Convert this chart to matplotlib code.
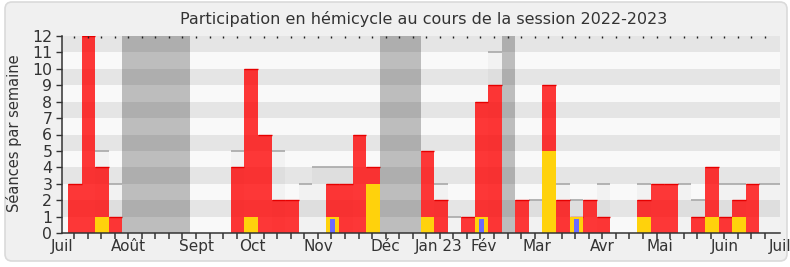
import matplotlib
matplotlib.use("Agg")
import matplotlib.pyplot as plt
from matplotlib.patches import FancyBboxPatch
from matplotlib.transforms import blended_transform_factory
import numpy as np

# ---- data (one entry per week, 53 weeks from July 2022) ----
presences = [3, 12, 4, 1, 0, 0, 0, 0, 0, 0, 0, 0, 4, 10, 6, 2, 2, 0, 0, 3,
             3, 6, 4, 0, 0, 0, 5, 2, 0, 1, 8, 9, 0, 2, 0, 9, 2, 1, 2, 1,
             0, 0, 2, 3, 3, 0, 1, 4, 1, 2, 3, 0, 0]
interventions = [0, 0, 1, 0, 0, 0, 0, 0, 0, 0, 0, 0, 0, 1, 0, 0, 0, 0, 0, 1,
                 0, 0, 3, 0, 0, 0, 1, 0, 0, 0, 1, 0, 0, 0, 0, 5, 0, 1, 0, 0,
                 0, 0, 1, 0, 0, 0, 0, 1, 0, 1, 0, 0, 0]
questions = [0, 0, 0, 0, 0, 0, 0, 0, 0, 0, 0, 0, 0, 0, 0, 0, 0, 0, 0, 1,
             0, 0, 0, 0, 0, 0, 0, 0, 0, 0, 1, 0, 0, 0, 0, 0, 0, 1, 0, 0,
             0, 0, 0, 0, 0, 0, 0, 0, 0, 0, 0, 0, 0]
mediane = [0, 0, 5, 3, 0, 0, 0, 0, 0, 0, 0, 0, 5, 0, 0, 5, 0, 3, 4, 4,
           4, 0, 0, 0, 0, 0, 0, 3, 1, 0, 0, 11, 0, 0, 2, 0, 3, 2, 0, 3,
           0, 0, 3, 0, 0, 3, 2, 0, 3, 3, 0, 3, 3]
vacances = [(4, 5), (23, 3), (32, 1)]  # (first week, number of weeks)
month_labels = ["Juil", "Août", "Sept", "Oct", "Nov", "Déc", "Jan 23",
                "Fév", "Mar", "Avr", "Mai", "Juin", "Juil"]
month_pos = [0.0, 4.87, 9.93, 14.04, 18.92, 23.9, 27.84, 31.13, 35.07,
             39.9, 44.1, 48.9, 53.0]
title = "Participation en hémicycle au cours de la session 2022-2023"
ylabel = "Séances par semaine"

W, H = 790, 267
fig = plt.figure(figsize=(W / 100, H / 100), dpi=100, facecolor="white")

# rounded light-grey card behind everything
bgax = fig.add_axes([0, 0, 1, 1], zorder=-5)
bgax.set_axis_off()
bgax.set_xlim(0, W)
bgax.set_ylim(0, H)
bgax.add_patch(FancyBboxPatch((5, 6), 782, 259, boxstyle="round,pad=0,rounding_size=7",
                              fc="#f0f0f0", ec="#dadada", lw=1.2))

ax = fig.add_axes([62 / W, 34 / H, 718 / W, 197 / H])
ax.set_xlim(0, 53)
ax.set_ylim(0, 12)
ax.set_facecolor("none")

# horizontal bands
for j in range(12):
    ax.axhspan(j, j + 1, color="#f9f9f9" if j % 2 == 0 else "#e5e5e5", lw=0, zorder=0)

n = len(presences)
off = 0.465
lefts = np.arange(n) + off

# median light bars
med = np.array(mediane, dtype=float)
ax.bar(lefts, med, width=1, align="edge", color="black", alpha=0.028, lw=0, zorder=1)
for l, m in zip(lefts, med):
    if m > 0:
        ax.hlines(m, l, l + 1, color="#a8a8a8", lw=1.2, zorder=1.5)

# presences (red)
pres = np.array(presences, dtype=float)
ax.bar(lefts, pres, width=1, align="edge", color=(1, 0, 0), alpha=0.78, lw=0, zorder=2)
for l, p in zip(lefts, pres):
    if p > 0:
        ax.hlines(p, l, l + 1, color="#e60000", lw=1.0, zorder=2.5)

# interventions (yellow)
itv = np.array(interventions, dtype=float)
ax.bar(lefts, itv, width=1, align="edge", color="#ffd20c", lw=0, zorder=3)

# questions (blue, inset)
q = np.array(questions, dtype=float)
ax.bar(lefts + 0.5, q * 0.85, width=0.36, align="center", color="#6a6aff", lw=0, zorder=4)

# vacations
for start, length in vacances:
    ax.axvspan(start + off, start + off + length, color="black", alpha=0.24, lw=0, zorder=5)

# axes styling
for s in ["right", "top"]:
    ax.spines[s].set_visible(False)
for s in ["left", "bottom"]:
    ax.spines[s].set_color("#333333")
    ax.spines[s].set_linewidth(1.1)
    ax.spines[s].set_zorder(6)

ax.set_yticks(range(13))
ax.tick_params(axis="y", length=4, width=1, color="#333333", labelcolor="#333333",
               labelsize=11.3, pad=3)
ax.set_xticks([])

trans = blended_transform_factory(ax.transData, ax.transAxes)
week_ticks = np.arange(52) + 0.89
ax.vlines(week_ticks, -0.028, 0, transform=trans, color="#333333", lw=1.1,
          clip_on=False, zorder=7)
ax.vlines(week_ticks, 0.992, 1.0, transform=trans, color="#222222", lw=1,
          clip_on=False, zorder=7)

for lab, pos in zip(month_labels, month_pos):
    ax.text(pos, -0.03, lab, transform=trans, ha="center", va="top",
            fontsize=11, color="#333333", clip_on=False)

fig.text(424 / W, 1 - 19 / H, title, ha="center", va="center", fontsize=11.5, color="#333333")
fig.text(14 / W, 1 - 133 / H, ylabel, ha="center", va="center", rotation=90,
         fontsize=10.5, color="#333333")

fig.savefig("out.png", dpi=100, facecolor="white")
